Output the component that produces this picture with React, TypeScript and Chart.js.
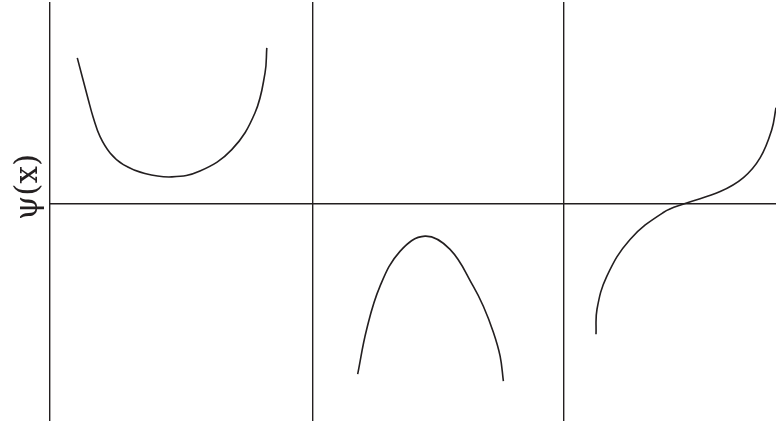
import React, { useEffect, useRef } from "react";
import { Chart, registerables } from "chart.js";

Chart.register(...registerables);

// Region boundaries along x and the zero line of ψ
const dividers = [0, 1.05, 2.05];
const zeroLine = [0];

// Left well: positive, concave-up wavefunction
const leftX = [0.109, 0.153, 0.173, 0.2, 0.24, 0.293, 0.379, 0.487, 0.599, 0.726, 0.819, 0.859, 0.866];
const leftY = [1.46, 1.04, 0.86, 0.67, 0.507, 0.39, 0.3, 0.267, 0.325, 0.54, 0.91, 1.31, 1.56];

// Middle region: negative, concave-down arch
const midX = [1.229, 1.265, 1.318, 1.398, 1.498, 1.598, 1.691, 1.731, 1.771, 1.798, 1.811];
const midY = [-1.71, -1.26, -0.83, -0.48, -0.327, -0.46, -0.83, -1.03, -1.29, -1.53, -1.78];

// Right region: crossing through zero with an inflection
const rightX = [2.181, 2.185, 2.224, 2.317, 2.45, 2.537, 2.677, 2.77, 2.837, 2.883, 2.9];
const rightY = [-1.31, -1.06, -0.73, -0.36, -0.09, 0, 0.12, 0.26, 0.46, 0.74, 0.96];

const axisTitle = "ψ(x)";
const ink = "#231f20";

const toPoints = (xs: number[], ys: number[]) => xs.map((x, i) => ({ x, y: ys[i] }));

const sideTitle = {
  id: "sideTitle",
  afterDraw(chart: Chart) {
    const { ctx, chartArea } = chart;
    ctx.save();
    ctx.translate(chartArea.left - 21, 187);
    ctx.rotate(-Math.PI / 2);
    ctx.fillStyle = ink;
    ctx.font = "31px 'DejaVu Serif', 'Liberation Serif', serif";
    ctx.textAlign = "center";
    ctx.textBaseline = "middle";
    ctx.fillText(axisTitle, 0, 0);
    ctx.restore();
  },
};

export default function App() {
  const canvasRef = useRef<HTMLCanvasElement | null>(null);

  useEffect(() => {
    document.body.style.margin = "0";
    document.body.style.overflow = "hidden";
    const canvas = canvasRef.current;
    if (!canvas) return;

    const lineStyle = {
      borderColor: ink,
      borderWidth: 1.6,
      pointRadius: 0,
      tension: 0.4,
      fill: false,
    };

    const chart = new Chart(canvas, {
      type: "line",
      data: {
        datasets: [
          { ...lineStyle, data: toPoints(leftX, leftY) },
          { ...lineStyle, data: toPoints(midX, midY) },
          { ...lineStyle, data: toPoints(rightX, rightY) },
        ],
      },
      options: {
        responsive: false,
        animation: false,
        events: [],
        layout: { padding: { left: 50, right: 0, top: 2, bottom: 3 } },
        plugins: {
          legend: { display: false },
          tooltip: { enabled: false },
        },
        scales: {
          x: {
            type: "linear",
            min: 0,
            max: 2.9,
            border: { display: false },
            ticks: { display: false },
            grid: { color: ink, lineWidth: 1.4, drawTicks: false },
            afterBuildTicks: (scale: any) => {
              scale.ticks = dividers.map((v) => ({ value: v }));
            },
          },
          y: {
            type: "linear",
            min: -2.18,
            max: 2.02,
            border: { display: false },
            ticks: { display: false },
            grid: { color: ink, lineWidth: 1.4, drawTicks: false },
            afterBuildTicks: (scale: any) => {
              scale.ticks = zeroLine.map((v) => ({ value: v }));
            },
          },
        },
      },
      plugins: [sideTitle],
    });

    return () => chart.destroy();
  }, []);

  return (
    <div style={{ width: 776, height: 424, background: "#ffffff" }}>
      <canvas ref={canvasRef} width={776} height={424} style={{ display: "block" }} />
    </div>
  );
}
